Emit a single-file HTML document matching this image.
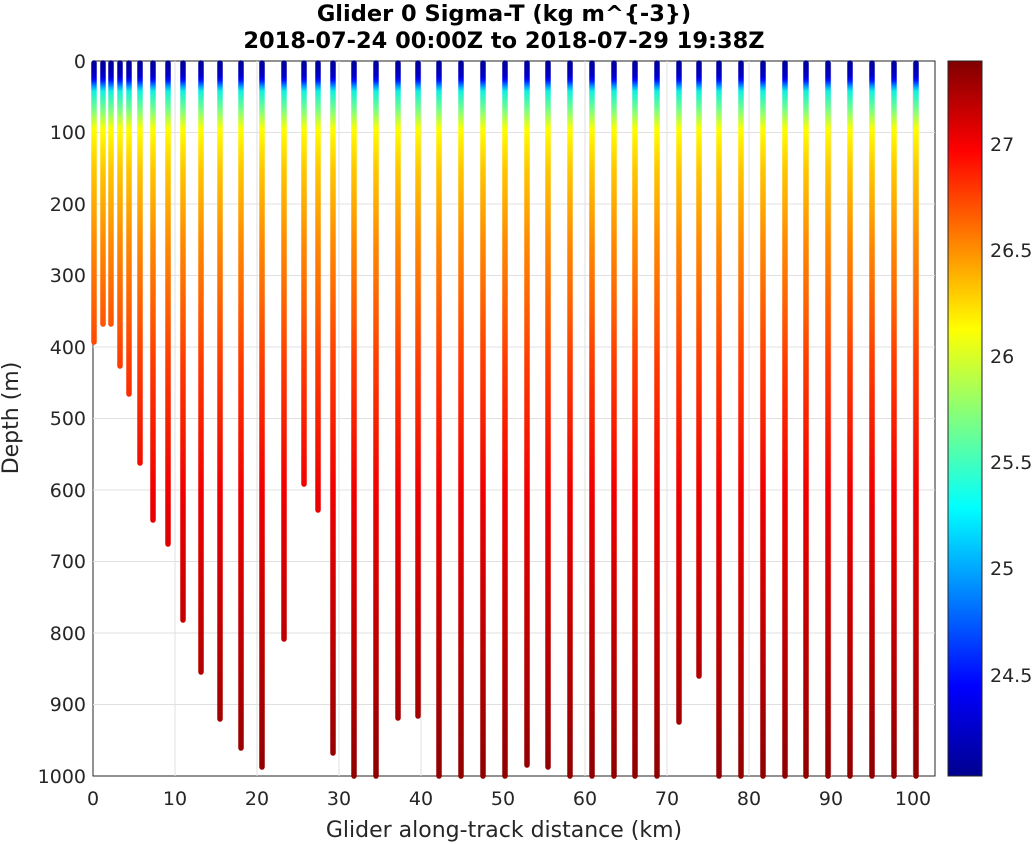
<!DOCTYPE html>
<html><head><style>body{margin:0;background:#fff}svg{display:block}</style></head><body>
<svg width="1033" height="844" xmlns="http://www.w3.org/2000/svg" font-family="DejaVu Sans, Liberation Sans, sans-serif">
<defs>
<linearGradient id="g" gradientUnits="userSpaceOnUse" x1="0" y1="61" x2="0" y2="776">
<stop offset="0" stop-color="#000090"/>
<stop offset="0.022" stop-color="#0000d0"/>
<stop offset="0.027" stop-color="#0010ff"/>
<stop offset="0.035" stop-color="#0090ff"/>
<stop offset="0.042" stop-color="#10f0e0"/>
<stop offset="0.07" stop-color="#80ff80"/>
<stop offset="0.095" stop-color="#ffff00"/>
<stop offset="0.15" stop-color="#ffc800"/>
<stop offset="0.25" stop-color="#ff8c00"/>
<stop offset="0.42" stop-color="#ff3c00"/>
<stop offset="0.6" stop-color="#f00000"/>
<stop offset="0.8" stop-color="#c00000"/>
<stop offset="1" stop-color="#900000"/>
</linearGradient>
<linearGradient id="cb" x1="0" y1="1" x2="0" y2="0">
<stop offset="0" stop-color="#00008f"/>
<stop offset="0.125" stop-color="#0000ff"/>
<stop offset="0.375" stop-color="#00ffff"/>
<stop offset="0.625" stop-color="#ffff00"/>
<stop offset="0.875" stop-color="#ff0000"/>
<stop offset="1" stop-color="#800000"/>
</linearGradient>
</defs>
<rect x="93" y="61" width="842" height="715" fill="#fff" stroke="#262626" stroke-width="1"/>
<g stroke="#e0e0e0" stroke-width="1">
<line x1="175" y1="61" x2="175" y2="776"/><line x1="257" y1="61" x2="257" y2="776"/><line x1="339" y1="61" x2="339" y2="776"/><line x1="421" y1="61" x2="421" y2="776"/><line x1="503" y1="61" x2="503" y2="776"/><line x1="585" y1="61" x2="585" y2="776"/><line x1="667" y1="61" x2="667" y2="776"/><line x1="749" y1="61" x2="749" y2="776"/><line x1="831" y1="61" x2="831" y2="776"/><line x1="913" y1="61" x2="913" y2="776"/>
<line x1="93" y1="132.5" x2="935" y2="132.5"/><line x1="93" y1="204" x2="935" y2="204"/><line x1="93" y1="275.5" x2="935" y2="275.5"/><line x1="93" y1="347" x2="935" y2="347"/><line x1="93" y1="418.5" x2="935" y2="418.5"/><line x1="93" y1="490" x2="935" y2="490"/><line x1="93" y1="561.5" x2="935" y2="561.5"/><line x1="93" y1="633" x2="935" y2="633"/><line x1="93" y1="704.5" x2="935" y2="704.5"/>
</g>
<g stroke="url(#g)" stroke-width="5.5" stroke-linecap="round">
<line x1="94" y1="63" x2="94" y2="342"/><line x1="103" y1="63" x2="103" y2="324"/><line x1="111" y1="63" x2="111" y2="324"/><line x1="120" y1="63" x2="120" y2="366"/><line x1="129" y1="63" x2="129" y2="394"/><line x1="140" y1="63" x2="140" y2="463"/><line x1="153" y1="63" x2="153" y2="520"/><line x1="168" y1="63" x2="168" y2="544"/><line x1="183" y1="63" x2="183" y2="620"/><line x1="201" y1="63" x2="201" y2="672"/><line x1="220" y1="63" x2="220" y2="719"/><line x1="241" y1="63" x2="241" y2="748"/><line x1="262" y1="63" x2="262" y2="767"/><line x1="284" y1="63" x2="284" y2="639"/><line x1="304" y1="63" x2="304" y2="484"/><line x1="318" y1="63" x2="318" y2="510"/><line x1="333" y1="63" x2="333" y2="753"/><line x1="354" y1="63" x2="354" y2="776"/><line x1="376" y1="63" x2="376" y2="776"/><line x1="398" y1="63" x2="398" y2="718"/><line x1="418" y1="63" x2="418" y2="716"/><line x1="439" y1="63" x2="439" y2="776"/><line x1="461" y1="63" x2="461" y2="776"/><line x1="483" y1="63" x2="483" y2="776"/><line x1="505" y1="63" x2="505" y2="776"/><line x1="527" y1="63" x2="527" y2="765"/><line x1="548" y1="63" x2="548" y2="767"/><line x1="570" y1="63" x2="570" y2="776"/><line x1="592" y1="63" x2="592" y2="776"/><line x1="614" y1="63" x2="614" y2="776"/><line x1="635" y1="63" x2="635" y2="776"/><line x1="657" y1="63" x2="657" y2="776"/><line x1="679" y1="63" x2="679" y2="722"/><line x1="699" y1="63" x2="699" y2="676"/><line x1="719" y1="63" x2="719" y2="776"/><line x1="741" y1="63" x2="741" y2="776"/><line x1="763" y1="63" x2="763" y2="776"/><line x1="785" y1="63" x2="785" y2="776"/><line x1="806" y1="63" x2="806" y2="776"/><line x1="828" y1="63" x2="828" y2="776"/><line x1="850" y1="63" x2="850" y2="776"/><line x1="872" y1="63" x2="872" y2="776"/><line x1="894" y1="63" x2="894" y2="776"/><line x1="916" y1="63" x2="916" y2="776"/>
</g>
<g font-size="19" fill="#262626" text-anchor="middle">
<text x="93" y="805">0</text><text x="175" y="805">10</text><text x="257" y="805">20</text><text x="339" y="805">30</text><text x="421" y="805">40</text><text x="503" y="805">50</text><text x="585" y="805">60</text><text x="667" y="805">70</text><text x="749" y="805">80</text><text x="831" y="805">90</text><text x="913" y="805">100</text>
</g>
<g font-size="19" fill="#262626" text-anchor="end">
<text x="86" y="68">0</text><text x="86" y="139">100</text><text x="86" y="211">200</text><text x="86" y="282">300</text><text x="86" y="354">400</text><text x="86" y="425">500</text><text x="86" y="497">600</text><text x="86" y="568">700</text><text x="86" y="640">800</text><text x="86" y="711">900</text><text x="86" y="783">1000</text>
</g>
<text x="504" y="837" font-size="22" fill="#262626" text-anchor="middle">Glider along-track distance (km)</text>
<text transform="translate(18,418) rotate(-90)" font-size="22" fill="#262626" text-anchor="middle">Depth (m)</text>
<text x="504" y="21" font-size="22.5" font-weight="bold" fill="#000" text-anchor="middle">Glider 0 Sigma-T (kg m^{-3})</text>
<text x="504" y="48" font-size="22.5" font-weight="bold" fill="#000" text-anchor="middle">2018-07-24 00:00Z to 2018-07-29 19:38Z</text>
<rect x="948" y="61" width="34" height="715" fill="url(#cb)" stroke="#262626" stroke-width="1"/>
<g font-size="19" fill="#262626">
<text x="990" y="151">27</text><text x="990" y="257">26.5</text><text x="990" y="363">26</text><text x="990" y="469">25.5</text><text x="990" y="575">25</text><text x="990" y="682">24.5</text>
</g>
</svg>
</body></html>
